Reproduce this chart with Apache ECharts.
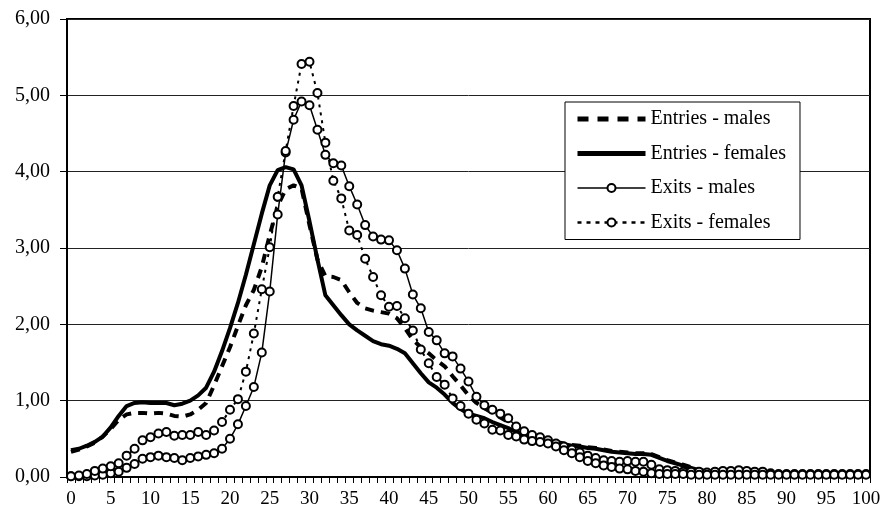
<!DOCTYPE html>
<html>
<head>
<meta charset="utf-8">
<script src="https://cdn.jsdelivr.net/npm/echarts/dist/echarts.min.js"></script>
<style>
html,body{margin:0;padding:0;background:#fff;}
#chart{width:885px;height:520px;}
</style>
</head>
<body>
<div id="chart"></div>
<script>
var ages = ['0','1','2','3','4','5','6','7','8','9','10','11','12','13','14','15','16','17','18','19','20',
'21','22','23','24','25','26','27','28','29','30','31','32','33','34','35','36','37','38','39','40',
'41','42','43','44','45','46','47','48','49','50','51','52','53','54','55','56','57','58','59','60',
'61','62','63','64','65','66','67','68','69','70','71','72','73','74','75','76','77','78','79','80',
'81','82','83','84','85','86','87','88','89','90','91','92','93','94','95','96','97','98','99','100'];

var entriesMales = [0.33,0.36,0.40,0.45,0.53,0.63,0.75,0.82,0.84,0.84,
0.83,0.84,0.83,0.80,0.79,0.82,0.88,0.97,1.20,1.45,
1.70,1.98,2.25,2.45,2.75,3.17,3.55,3.77,3.82,3.78,
3.30,2.85,2.63,2.62,2.58,2.42,2.28,2.21,2.18,2.16,
2.14,2.08,1.95,1.80,1.70,1.62,1.53,1.45,1.32,1.20,
1.07,0.97,0.90,0.84,0.78,0.72,0.65,0.59,0.54,0.50,
0.48,0.46,0.44,0.42,0.41,0.39,0.38,0.36,0.34,0.33,
0.32,0.31,0.31,0.30,0.26,0.22,0.19,0.16,0.13,0.10,
0.07,0.06,0.05,0.05,0.05,0.04,0.04,0.04,0.03,0.03,
0.02,0.02,0.02,0.02,0.01,0.01,0.01,0.01,0.01,0.01,0.01];

var entriesFemales = [0.35,0.37,0.41,0.46,0.53,0.65,0.80,0.93,0.97,0.98,
0.97,0.97,0.97,0.94,0.96,1.00,1.07,1.17,1.38,1.65,
1.95,2.28,2.65,3.05,3.45,3.82,4.02,4.06,4.03,3.82,
3.35,2.85,2.38,2.25,2.12,2.00,1.92,1.85,1.78,1.74,
1.72,1.68,1.62,1.49,1.36,1.24,1.17,1.08,0.97,0.89,
0.83,0.80,0.77,0.72,0.68,0.64,0.59,0.55,0.52,0.49,
0.47,0.45,0.43,0.41,0.40,0.38,0.37,0.35,0.33,0.32,
0.31,0.30,0.30,0.29,0.25,0.21,0.18,0.15,0.12,0.09,
0.07,0.06,0.05,0.05,0.05,0.04,0.04,0.04,0.03,0.03,
0.02,0.02,0.02,0.02,0.01,0.01,0.01,0.01,0.01,0.01,0.01];

var exitsMales = [0.01,0.01,0.01,0.02,0.03,0.05,0.07,0.12,0.17,0.24,
0.26,0.28,0.26,0.25,0.22,0.25,0.27,0.29,0.31,0.37,
0.50,0.69,0.93,1.18,1.63,2.43,3.44,4.25,4.68,4.92,
4.87,4.55,4.22,4.11,4.08,3.81,3.57,3.30,3.15,3.11,
3.10,2.97,2.73,2.39,2.21,1.90,1.79,1.62,1.58,1.42,
1.25,1.05,0.94,0.88,0.83,0.77,0.66,0.60,0.55,0.52,
0.48,0.44,0.40,0.36,0.32,0.28,0.25,0.22,0.21,0.20,
0.21,0.20,0.20,0.16,0.10,0.09,0.08,0.07,0.07,0.07,
0.06,0.07,0.08,0.08,0.09,0.08,0.07,0.07,0.05,0.04,
0.04,0.04,0.04,0.04,0.04,0.04,0.04,0.04,0.04,0.04,0.04];

var exitsFemales = [0.01,0.02,0.04,0.08,0.11,0.14,0.18,0.28,0.37,0.48,
0.52,0.57,0.59,0.54,0.55,0.55,0.59,0.55,0.61,0.72,
0.88,1.02,1.38,1.88,2.46,3.01,3.67,4.27,4.86,5.41,
5.44,5.03,4.38,3.88,3.65,3.23,3.17,2.86,2.62,2.38,
2.23,2.24,2.08,1.92,1.67,1.49,1.31,1.21,1.03,0.93,
0.83,0.75,0.70,0.62,0.61,0.55,0.53,0.49,0.47,0.46,
0.44,0.40,0.35,0.31,0.26,0.21,0.18,0.15,0.13,0.11,
0.10,0.08,0.07,0.05,0.04,0.04,0.04,0.04,0.03,0.03,
0.03,0.03,0.03,0.03,0.03,0.03,0.03,0.03,0.03,0.03,
0.03,0.03,0.03,0.03,0.03,0.03,0.03,0.03,0.03,0.03,0.03];

var seriesNames = ['Entries - males','Entries - females','Exits - males','Exits - females'];

var FONT = "'Liberation Serif','Times New Roman',serif";
var chart = echarts.init(document.getElementById('chart'), null, {renderer:'canvas'});

var circleItem = {color:'#fff', borderColor:'#000', borderWidth:2};

chart.setOption({
  animation:false,
  backgroundColor:'#fff',
  textStyle:{fontFamily:FONT, color:'#000'},
  grid:{left:67, right:15, top:19, bottom:43, show:true, borderColor:'#000', borderWidth:2, backgroundColor:'transparent'},
  legend:{
    orient:'vertical', left:565, top:102, align:'left',
    data:[
      {name:seriesNames[0], itemStyle:{opacity:0}, lineStyle:{width:5, type:[11,9], color:'#000'}},
      {name:seriesNames[1], itemStyle:{opacity:0}, lineStyle:{width:5, color:'#000'}},
      {name:seriesNames[2], lineStyle:{width:1.5, color:'#000'}},
      {name:seriesNames[3], lineStyle:{width:2.5, type:[4,5], color:'#000'}}
    ],
    itemWidth:68, itemHeight:10, itemGap:14.5,
    padding:[7,14,7,10],
    backgroundColor:'#fff', borderColor:'#000', borderWidth:1,
    textStyle:{fontFamily:FONT, fontSize:20, color:'#000', lineHeight:20},
    z:10
  },
  xAxis:{
    type:'category', data:ages, boundaryGap:true,
    axisLine:{lineStyle:{color:'#000', width:2}},
    axisTick:{show:true, interval:0, length:6, lineStyle:{color:'#000', width:1}},
    axisLabel:{interval:4, margin:13, fontFamily:FONT, fontSize:19, color:'#000'},
    splitLine:{show:false}
  },
  yAxis:{
    type:'value', min:0, max:6, interval:1,
    axisLine:{show:true, lineStyle:{color:'#000', width:2}},
    axisTick:{show:true, length:7, lineStyle:{color:'#000', width:1}},
    axisLabel:{margin:17, fontFamily:FONT, fontSize:20, color:'#000',
      formatter:function(v){return v.toFixed(2).replace('.', ',');}},
    splitLine:{show:true, lineStyle:{color:'#222', width:1}}
  },
  series:[
    {name:seriesNames[0], type:'line', data:entriesMales, symbol:'none', z:2,
      lineStyle:{color:'#000', width:4, type:[9,7]}, itemStyle:{color:'#000'}},
    {name:seriesNames[1], type:'line', data:entriesFemales, symbol:'none', z:2,
      lineStyle:{color:'#000', width:4}, itemStyle:{color:'#000'}},
    {name:seriesNames[2], type:'line', data:exitsMales, symbol:'circle', symbolSize:8, showAllSymbol:true, z:3,
      lineStyle:{color:'#000', width:1.5}, itemStyle:circleItem},
    {name:seriesNames[3], type:'line', data:exitsFemales, symbol:'circle', symbolSize:8, showAllSymbol:true, z:3,
      lineStyle:{color:'#000', width:2, type:[3,5]}, itemStyle:circleItem}
  ]
});
</script>
</body>
</html>
